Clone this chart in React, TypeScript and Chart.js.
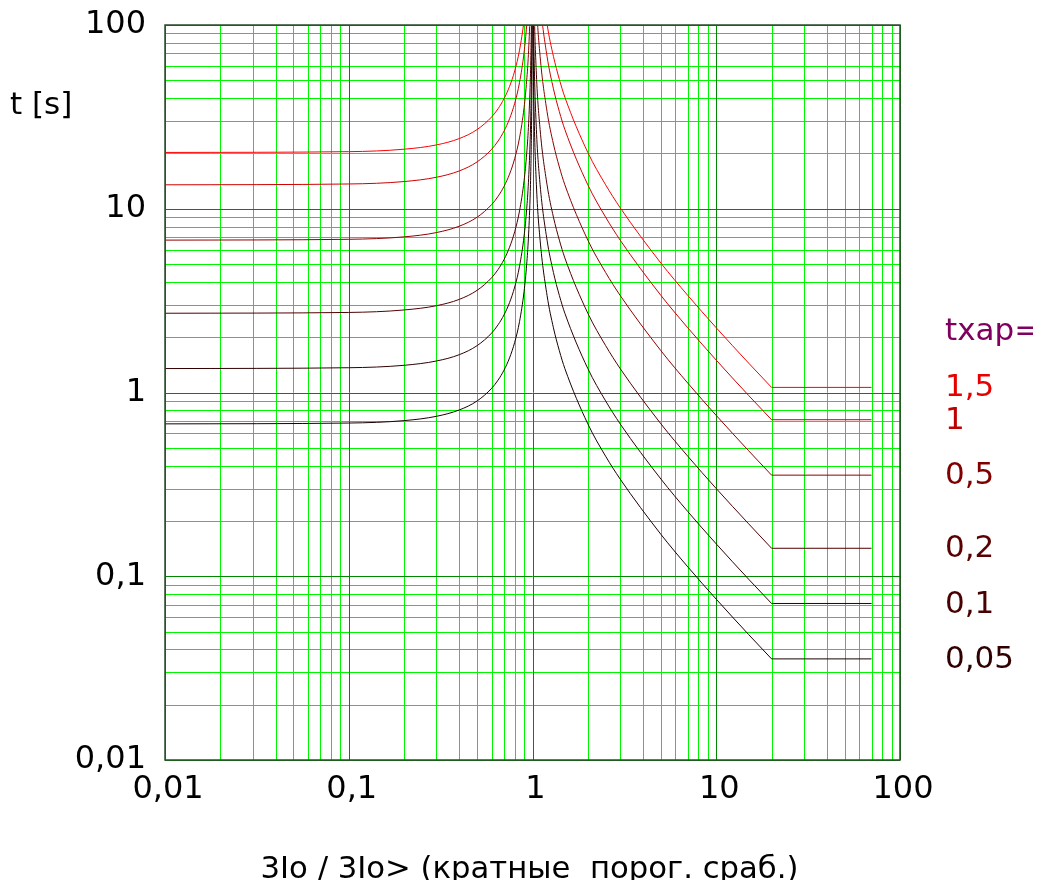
import React, { useEffect, useRef } from 'react';
import { Chart, registerables } from 'chart.js';

Chart.register(...registerables);

const FONT = "'DejaVu Sans', 'Noto Sans', sans-serif";

// x = 3Io / 3Io>
const xPoints = [
  0.01, 0.1, 0.2, 0.3, 0.4, 0.5, 0.6, 0.65, 0.7, 0.75, 0.8, 0.85, 0.9, 0.93, 0.95, 0.97, 0.98, 0.99, 0.995, 0.998,
  1.002, 1.005, 1.01, 1.02, 1.05, 1.1, 1.2, 1.3, 1.4, 1.5, 2, 2.5, 3, 5, 7, 10, 15, 20,
];
const xFlat = [20, 70];

// t [s] for each tхар
const t15 = [
  20.25, 20.45, 21.09, 22.25, 24.11, 27.0, 31.64, 35.06, 39.71, 46.29, 56.25, 72.97, 106.6, 149.9, 207.7, 342.6, 511.3, 1017, 2030, 5068,
  10125, 4050, 2025, 1012.5, 405, 202.5, 101.25, 67.5, 50.63, 40.5, 20.25, 13.5, 10.13, 5.06, 3.375, 2.25, 1.446, 1.066,
];
const t1 = [
  13.5, 13.64, 14.06, 14.84, 16.07, 18.0, 21.09, 23.38, 26.47, 30.86, 37.5, 48.65, 71.05, 99.93, 138.5, 228.4, 340.9, 678.4, 1353, 3378,
  6750, 2700, 1350, 675, 270, 135, 67.5, 45, 33.75, 27, 13.5, 9.0, 6.75, 3.375, 2.25, 1.5, 0.964, 0.711,
];
const t05 = [
  6.75, 6.82, 7.03, 7.42, 8.04, 9.0, 10.55, 11.69, 13.24, 15.43, 18.75, 24.32, 35.53, 49.96, 69.23, 114.2, 170.4, 339.2, 676.7, 1689,
  3375, 1350, 675, 337.5, 135, 67.5, 33.75, 22.5, 16.88, 13.5, 6.75, 4.5, 3.375, 1.688, 1.125, 0.75, 0.482, 0.355,
];
const t02 = [
  2.7, 2.727, 2.813, 2.967, 3.214, 3.6, 4.219, 4.675, 5.294, 6.171, 7.5, 9.73, 14.21, 19.99, 27.69, 45.68, 68.18, 135.7, 270.7, 675.7,
  1350, 540, 270, 135, 54, 27, 13.5, 9.0, 6.75, 5.4, 2.7, 1.8, 1.35, 0.675, 0.45, 0.3, 0.193, 0.142,
];
const t01 = [
  1.35, 1.364, 1.406, 1.484, 1.607, 1.8, 2.109, 2.338, 2.647, 3.086, 3.75, 4.865, 7.105, 9.993, 13.85, 22.84, 34.09, 67.84, 135.3, 337.8,
  675, 270, 135, 67.5, 27, 13.5, 6.75, 4.5, 3.375, 2.7, 1.35, 0.9, 0.675, 0.338, 0.225, 0.15, 0.0964, 0.0711,
];
const t005 = [
  0.675, 0.682, 0.703, 0.742, 0.804, 0.9, 1.055, 1.169, 1.324, 1.543, 1.875, 2.432, 3.553, 4.996, 6.923, 11.42, 17.04, 33.92, 67.67, 168.9,
  337.5, 135, 67.5, 33.75, 13.5, 6.75, 3.375, 2.25, 1.688, 1.35, 0.675, 0.45, 0.338, 0.169, 0.1125, 0.075, 0.0482, 0.0355,
];

const curveLabels = ['1,5', '1', '0,5', '0,2', '0,1', '0,05'];
const curveValues = [t15, t1, t05, t02, t01, t005];
const curveColors = ['#ff0000', '#d00000', '#900000', '#500000', '#300000', '#1a0000'];
const labelColors = ['#e80000', '#c00000', '#800000', '#5a0000', '#480000', '#300000'];

const decades = [0.01, 0.1, 1, 10, 100];
const decadeLabels = ['0,01', '0,1', '1', '10', '100'];
const minorSteps = [2, 3, 4, 5, 6, 7, 8, 9];

const legendTitle = 'tхар=';
const yTitle = 't [s]';
const xTitle = '3Io / 3Io> (кратные  порог. сраб.)';

const minorValues: number[] = [];
decades.slice(0, -1).forEach((d) => minorSteps.forEach((m) => minorValues.push(+(d * m).toPrecision(6))));

const decadeIndex = (v: any) =>
  typeof v === 'number' ? decades.findIndex((d) => Math.abs(v / d - 1) < 1e-6) : -1;

const gridPlugin = {
  id: 'logGrid',
  beforeDatasetsDraw(chart: any) {
    const { ctx, chartArea: a, scales } = chart;
    ctx.save();
    ctx.lineWidth = 1;
    const drawSet = (values: number[], color: string) => {
      ctx.strokeStyle = color;
      ctx.beginPath();
      values.forEach((v) => {
        const px = Math.round(scales.x.getPixelForValue(v)) + 0.5;
        ctx.moveTo(px, a.top);
        ctx.lineTo(px, a.bottom);
        const py = Math.round(scales.y.getPixelForValue(v)) + 0.5;
        ctx.moveTo(a.left, py);
        ctx.lineTo(a.right, py);
      });
      ctx.stroke();
    };
    drawSet(minorValues, '#00f500');
    drawSet(decades, '#008800');
    ctx.restore();
  },
  afterDatasetsDraw(chart: any) {
    const { ctx, chartArea: a } = chart;
    ctx.save();
    ctx.strokeStyle = '#2a4f2a';
    ctx.lineWidth = 1.5;
    ctx.strokeRect(a.left, a.top, a.right - a.left, a.bottom - a.top);
    ctx.restore();
  },
};

const textPlugin = {
  id: 'texts',
  afterDraw(chart: any) {
    const { ctx, scales } = chart;
    ctx.save();
    ctx.textBaseline = 'middle';
    ctx.textAlign = 'left';
    ctx.fillStyle = '#000';
    ctx.font = `31px ${FONT}`;
    ctx.fillText(yTitle, 10, 106);
    ctx.font = `30.7px ${FONT}`;
    ctx.textAlign = 'center';
    ctx.fillText(xTitle, 529.5, 870);
    ctx.font = `31px ${FONT}`;
    ctx.textAlign = 'left';
    ctx.fillStyle = '#800060';
    ctx.fillText(legendTitle, 945, 332);
    curveValues.forEach((vals, i) => {
      const y = scales.y.getPixelForValue(vals[vals.length - 1]);
      ctx.fillStyle = labelColors[i];
      ctx.fillText(curveLabels[i], 945, y + 1);
    });
    ctx.restore();
  },
};

export default function App() {
  const ref = useRef<HTMLCanvasElement>(null);
  useEffect(() => {
    const canvas = ref.current;
    if (!canvas) return;
    const datasets: any[] = [];
    curveValues.forEach((vals, i) => {
      datasets.push({
        data: xPoints.map((x, j) => ({ x, y: vals[j] })),
        borderColor: curveColors[i],
        borderWidth: 1,
        pointRadius: 0,
        cubicInterpolationMode: 'monotone',
        fill: false,
      });
      const last = vals[vals.length - 1];
      datasets.push({
        data: xFlat.map((x) => ({ x, y: last })),
        borderColor: curveColors[i],
        borderWidth: 1,
        pointRadius: 0,
        tension: 0,
        fill: false,
      });
    });

    const setTicks = (scale: any) => {
      scale.ticks = decades.map((v) => ({ value: v }));
    };
    const tickLabel = (v: any) => {
      const i = decadeIndex(Number(v));
      return i >= 0 ? decadeLabels[i] : '';
    };
    const zeroPad = (s: any) => {
      s.paddingTop = 0;
      s.paddingBottom = 0;
      s.paddingLeft = 0;
      s.paddingRight = 0;
    };

    const chart = new Chart(canvas, {
      type: 'line',
      data: { datasets },
      plugins: [gridPlugin, textPlugin],
      options: {
        animation: false,
        responsive: false,
        events: [],
        layout: { padding: { top: 25, right: 141, left: 0, bottom: 0 } },
        plugins: { legend: { display: false }, tooltip: { enabled: false } },
        scales: {
          x: {
            type: 'logarithmic',
            min: 0.01,
            max: 100,
            afterBuildTicks: setTicks,
            afterFit: (s: any) => {
              s.height = 128;
              zeroPad(s);
            },
            ticks: {
              autoSkip: false,
              maxRotation: 0,
              minRotation: 0,
              padding: 14,
              labelOffset: 3,
              color: '#000',
              font: { family: FONT, size: 32, lineHeight: 1 },
              callback: tickLabel,
            },
            grid: { display: false, drawTicks: false },
            border: { display: false },
          },
          y: {
            type: 'logarithmic',
            min: 0.01,
            max: 100,
            afterBuildTicks: setTicks,
            afterFit: (s: any) => {
              s.width = 165;
              zeroPad(s);
            },
            ticks: {
              autoSkip: false,
              padding: 19,
              color: '#000',
              font: { family: FONT, size: 32, lineHeight: 1 },
              callback: tickLabel,
            },
            grid: { display: false, drawTicks: false },
            border: { display: false },
          },
        },
      } as any,
    });
    return () => chart.destroy();
  }, []);
  return (
    <div style={{ width: 1041, height: 888, margin: -8, overflow: 'hidden' }}>
      <canvas ref={ref} width={1041} height={888} style={{ display: 'block', width: 1041, height: 888 }} />
    </div>
  );
}
